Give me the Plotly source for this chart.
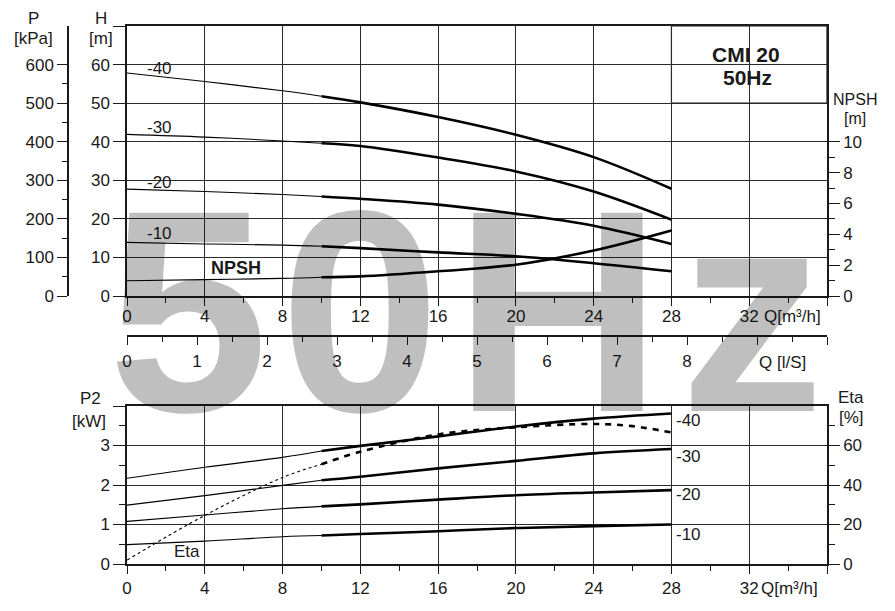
import plotly.graph_objects as go

# flow points [m3/h]
q = [0, 4, 8, 10, 12, 16, 20, 24, 28]
q_eta = [0, 4, 8, 10, 12, 16, 20, 24, 26, 28]

# head curves H [m] for impellers -40 ... -10
h_40 = [57.8, 55.6, 53.2, 51.8, 50.2, 46.4, 41.8, 36.0, 27.8]
h_30 = [41.9, 41.2, 40.2, 39.6, 38.9, 35.9, 32.3, 27.1, 19.8]
h_20 = [27.7, 27.1, 26.3, 25.8, 25.2, 23.7, 21.3, 18.2, 13.5]
h_10 = [13.9, 13.5, 13.2, 12.9, 12.4, 11.3, 10.3, 8.5, 6.4]
npsh = [0.99, 1.06, 1.14, 1.22, 1.27, 1.6, 2.03, 2.95, 4.25]

# shaft power P2 [kW]
p2_40 = [2.17, 2.45, 2.70, 2.86, 2.99, 3.23, 3.48, 3.68, 3.81]
p2_30 = [1.49, 1.73, 1.99, 2.12, 2.21, 2.42, 2.61, 2.80, 2.91]
p2_20 = [1.08, 1.24, 1.40, 1.46, 1.51, 1.63, 1.74, 1.81, 1.87]
p2_10 = [0.49, 0.58, 0.69, 0.72, 0.76, 0.83, 0.91, 0.96, 1.00]

# efficiency [%]
eta = [2, 24.6, 43.8, 50.5, 56.8, 65.6, 69.2, 70.9, 69.8, 66.6]

curve_names = ["-40", "-30", "-20", "-10"]

W, H = 895, 611
OFF = 8  # page body margin, the figure sits 8px in from the corner
FONT = "Arial, Liberation Sans, sans-serif"
INK = "#1a1a1a"


def px(x):
    return (x - OFF) / W


def py(y):
    return 1 - (y - OFF) / H


def add_curve(fig, xs, ys, xa, ya, split=10, dash_thin=None, dash_thick=None):
    i = xs.index(split)
    fig.add_trace(go.Scatter(x=xs[:i + 1], y=ys[:i + 1], xaxis=xa, yaxis=ya, mode="lines",
                             line=dict(color="black", width=1.1, shape="spline", dash=dash_thin)))
    fig.add_trace(go.Scatter(x=xs[i:], y=ys[i:], xaxis=xa, yaxis=ya, mode="lines",
                             line=dict(color="black", width=2.6, shape="spline", dash=dash_thick)))


fig = go.Figure()

# 1. top chart: head + NPSH
for hs in [h_40, h_30, h_20, h_10]:
    add_curve(fig, q, hs, "x", "y")
add_curve(fig, q, npsh, "x", "y2")

# empty traces so the extra axes get drawn
fig.add_trace(go.Scatter(x=[None], y=[None], xaxis="x3", yaxis="y"))
fig.add_trace(go.Scatter(x=[None], y=[None], xaxis="x", yaxis="y3"))

# 2. bottom chart: P2 + Eta
for ps in [p2_40, p2_30, p2_20, p2_10]:
    add_curve(fig, q, ps, "x2", "y4")
add_curve(fig, q_eta, eta, "x2", "y5", dash_thin="dot", dash_thick="6px,6px")

dom_x = [px(127), px(827)]
tick = dict(ticks="outside", tickcolor=INK, tickwidth=1.4, showline=True, linecolor=INK,
            linewidth=1.5, zeroline=False, tickfont=dict(size=17, color=INK, family=FONT),
            automargin=False)
grid = dict(showgrid=True, gridcolor="#2a2a2a", gridwidth=1)
minor = dict(ticks="outside", tickcolor=INK, tickwidth=1.2)

q_ticks = list(range(0, 37, 4))
q_text = [str(v) for v in q_ticks[:-1]] + [""]
q_minor = list(range(2, 36, 4))

fig.update_layout(
    width=W, height=H, template="none", showlegend=False, hovermode=False,
    margin=dict(l=0, r=0, t=0, b=0, pad=0),
    paper_bgcolor="white", plot_bgcolor="white",
    font=dict(family=FONT, size=17, color=INK),
    xaxis=dict(domain=dom_x, range=[0, 36], anchor="y", tickvals=q_ticks, ticktext=q_text,
               ticklen=8, ticklabelstandoff=-4, mirror=True,
               minor=dict(tickvals=q_minor, ticklen=5, **minor), **tick, **grid),
    yaxis=dict(domain=[py(296), py(26)], range=[0, 70], anchor="x",
               tickvals=list(range(0, 71, 10)), ticktext=[str(v) for v in range(0, 61, 10)] + [""],
               ticklen=12, mirror=True, **tick, **grid),
    yaxis2=dict(overlaying="y", side="right", anchor="x", range=[0, 17.5],
                tickvals=list(range(0, 11, 2)), ticklen=11,
                minor=dict(tickvals=list(range(1, 10, 2)), ticklen=6, **minor),
                showgrid=False, **tick),
    yaxis3=dict(overlaying="y", anchor="free", position=px(68), side="left", range=[0, 700],
                tickvals=list(range(0, 601, 100)), ticklen=10,
                minor=dict(tickvals=list(range(50, 600, 100)), ticklen=5, **minor),
                showgrid=False, **tick),
    xaxis3=dict(overlaying="x", anchor="free", position=py(336), side="bottom", range=[0, 10],
                tickvals=list(range(0, 11)), ticktext=[str(v) for v in range(0, 9)] + ["", ""],
                ticklen=8, ticklabelstandoff=2,
                minor=dict(tickvals=[v + 0.5 for v in range(10)], ticklen=5, **minor),
                showgrid=False, **tick),
    xaxis2=dict(domain=dom_x, range=[0, 36], anchor="y4", tickvals=q_ticks, ticktext=q_text,
                ticklen=8, mirror=True,
                minor=dict(tickvals=q_minor, ticklen=5, **minor), **tick, **grid),
    yaxis4=dict(domain=[py(564), py(406)], range=[0, 4], anchor="x2",
                tickvals=[0, 1, 2, 3, 4], ticktext=["0", "1", "2", "3", ""], ticklen=12,
                minor=dict(tickvals=[0.5, 1.5, 2.5, 3.5], ticklen=6, **minor),
                mirror=True, **tick, **grid),
    yaxis5=dict(overlaying="y4", side="right", anchor="x2", range=[0, 80],
                tickvals=[0, 20, 40, 60], ticklen=11,
                minor=dict(tickvals=[10, 30, 50, 70], ticklen=6, **minor),
                showgrid=False, **tick),
)

# empty box for the model name
fig.add_shape(type="rect", xref="x", yref="y", x0=28, x1=36, y0=50, y1=70, layer="below",
              fillcolor="white", line=dict(color=INK, width=1.2))

ann = []


def label(text, x, y, size=17, bold=False, xanchor="center", color=INK):
    ann.append(dict(text=text, x=px(x), y=py(y), xref="paper", yref="paper", showarrow=False,
                    xanchor=xanchor, yanchor="middle",
                    font=dict(size=size, color=color, family=FONT,
                              weight="bold" if bold else "normal")))


# axis titles
label("P", 33, 18)
label("[kPa]", 33, 38)
label("H", 101, 18)
label("[m]", 101, 38)
label("NPSH", 855, 100, size=16)
label("[m]", 855, 118, size=16)
label("P2", 90, 398)
label("[kW]", 89, 421)
label("Eta", 851, 397)
label("[%]", 851, 418)
label("Q[m³/h]", 762, 316, xanchor="left")
label("Q[m³/h]", 759, 588, xanchor="left")
label("Q [l/S]", 782, 362)
label("CMI 20", 746, 55, size=21, bold=True)
label("50Hz", 747, 77, size=21, bold=True)

# curve labels
for name, yy in zip(curve_names, [69, 128, 182, 234]):
    label(name, 159, yy)
for name, yy in zip(curve_names, [420, 456, 495, 534]):
    label(name, 674, yy, xanchor="left")
label("NPSH", 236, 268, size=18, bold=True)
label("Eta", 187, 551)

# big translucent watermark
for ch, cx in zip("50Hz", [188, 360, 558, 752]):
    label(ch, cx, 311, size=288, bold=True, color="rgba(0,0,0,0.25)")

fig.update_layout(annotations=ann)

fig.write_html("out.html")
